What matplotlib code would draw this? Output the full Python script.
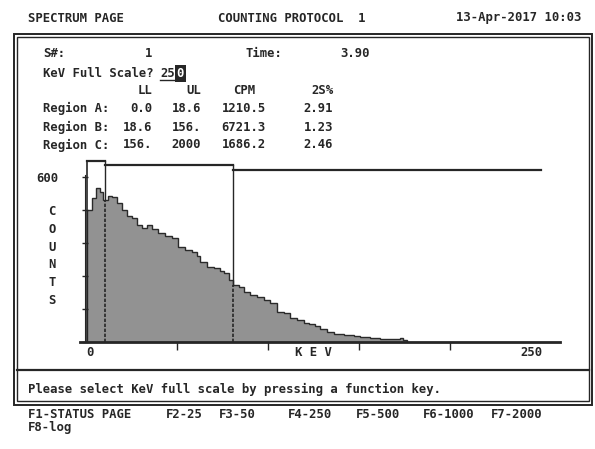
import matplotlib
matplotlib.use("Agg")
import matplotlib.pyplot as plt
import numpy as np
from matplotlib.patches import Rectangle
from matplotlib.lines import Line2D

# spectrum (left bin edge in keV, counts)
kev_edges = [0.5, 2.9, 5.1, 7.5, 9.3, 12.1, 13.9, 16.7, 19.4, 22.1, 24.9, 27.6,
             30.4, 33.1, 35.9, 39.6, 43.2, 46.9, 50.6, 54.2, 57.9, 60.6, 62.6,
             66.3, 70.0, 73.6, 75.4, 78.2, 80.6, 83.7, 86.4, 90.1, 93.8, 97.4,
             101.1, 104.8, 108.4, 112.1, 115.8, 119.4, 122.2, 125.8, 128.6,
             132.2, 135.9, 141.4, 146.9, 150.6, 156.1, 161.6, 167.0, 170.7,
             172.5, 174.2, 176.5]
counts = [479, 522, 558, 545, 515, 530, 525, 503, 479, 457, 448, 424, 412, 424,
          408, 396, 384, 376, 345, 333, 327, 311, 290, 272, 266, 258, 248, 224,
          206, 199, 181, 169, 163, 151, 139, 108, 103, 84, 78, 66, 64, 56, 44,
          36, 27, 24, 20, 15, 12, 10, 8, 8, 11, 4]

# region markers as drawn on the screen (axis units)
marker_lo = [0.5, 10.3, 80.6]
marker_hi = [10.3, 80.6, 250.0]
marker_top = [657, 641, 623]

# region table
region_names = ["Region A:", "Region B:", "Region C:"]
region_ll = ["0.0", "18.6", "156."]
region_ul = ["18.6", "156.", "2000"]
region_cpm = ["1210.5", "6721.3", "1686.2"]
region_2s = ["2.91", "1.23", "2.46"]

fkeys = ["F1-STATUS PAGE", "F2-25", "F3-50", "F4-250", "F5-500", "F6-1000", "F7-2000"]
fkey_x = [28, 166, 219, 288, 356, 423, 491]

W, H = 595, 449
ink = "#262626"
mono = "DejaVu Sans Mono"
fs = 8.8


def fx(x):
    return x / W


def fy(y):
    return 1 - y / H


fig = plt.figure(figsize=(W / 100, H / 100), dpi=100)
fig.patch.set_facecolor("white")


def txt(x, y, s, **kw):
    kw.setdefault("color", ink)
    kw.setdefault("ha", "left")
    fig.text(fx(x), fy(y), s, family=mono, fontsize=fs, fontweight="bold",
             va="center", **kw)


# header line
txt(28, 18, "SPECTRUM PAGE")
txt(218, 18, "COUNTING PROTOCOL  1")
txt(456, 18, "13-Apr-2017 10:03")

# screen frame (double line) and separator
for x0, y0, x1, y1, lw in [(13.5, 33.5, 592, 404.5, 1.4), (17, 37, 589, 401, 1.0)]:
    fig.add_artist(Rectangle((fx(x0), fy(y1)), fx(x1) - fx(x0), fy(y0) - fy(y1),
                             transform=fig.transFigure, fill=False, ec=ink, lw=lw))
fig.add_artist(Line2D([fx(17), fx(589)], [fy(370), fy(370)], transform=fig.transFigure,
                      color=ink, lw=1.6))

# info block
txt(43, 53.5, "S#:")
txt(145, 53.5, "1")
txt(245, 53.5, "Time:")
txt(340, 53.5, "3.90")
txt(43, 73.5, "KeV Full Scale?")
txt(160, 73.5, "25")
txt(176.5, 73.5, "0", color="white",
    bbox=dict(boxstyle="square,pad=0.15", fc=ink, ec="none"))
fig.add_artist(Line2D([fx(160), fx(176)], [fy(80), fy(80)], transform=fig.transFigure,
                      color=ink, lw=1))

txt(152, 90, "LL", ha="right")
txt(201, 90, "UL", ha="right")
txt(255, 90, "CPM", ha="right")
txt(333, 90, "2S%", ha="right")
row_y = [108.5, 127, 145]
for i, y in enumerate(row_y):
    txt(43, y, region_names[i])
    txt(152, y, region_ll[i], ha="right")
    txt(201, y, region_ul[i], ha="right")
    txt(266, y, region_cpm[i], ha="right")
    txt(333, y, region_2s[i], ha="right")

# spectrum axes
kev_per_px = 250 / 454.5
cnt_per_px = 600 / 164.8
ax_l, ax_r, ax_b, ax_t = 80, 560, 341.5, 155
ax = fig.add_axes([fx(ax_l), fy(ax_b), fx(ax_r) - fx(ax_l), fy(ax_t) - fy(ax_b)])
ax.set_facecolor("none")
ax.set_xlim((ax_l - 86.5) * kev_per_px, (ax_r - 86.5) * kev_per_px)
ax.set_ylim(0, (ax_b - ax_t) * cnt_per_px)

ax.stairs(counts, kev_edges, fill=True, color="#929292", zorder=1)
ax.stairs(counts, kev_edges, color="#2a2a2a", lw=1.0, zorder=2)

# region markers: solid above the spectrum, dotted where they cross it
ax.plot([marker_lo[0], marker_lo[0]], [0, marker_top[0]], color=ink, lw=1.2, zorder=3)
for lo, hi, top in zip(marker_lo, marker_hi, marker_top):
    ax.plot([lo, hi], [top, top], color=ink, lw=1.6, zorder=3)
for hi, top in zip(marker_hi[:2], marker_top[:2]):
    level = counts[np.searchsorted(kev_edges, hi, side="right") - 1]
    ax.plot([hi, hi], [0, level], color=ink, lw=1.2, ls=(0, (2, 1)), zorder=3)
    ax.plot([hi, hi], [level, top], color=ink, lw=1.0, zorder=3)

for side in ["top", "right"]:
    ax.spines[side].set_visible(False)
ax.spines["bottom"].set_linewidth(2)
ax.spines["bottom"].set_color(ink)
ax.spines["left"].set_position(("data", -0.8))
ax.spines["left"].set_bounds(0, 606)
ax.spines["left"].set_color(ink)

ax.set_yticks([0, 120, 240, 360, 480, 600], ["", "", "", "", "", "600"])
ax.tick_params(axis="y", direction="inout", length=5, width=1, color=ink, pad=17,
               labelsize=fs, labelcolor=ink)
ax.set_xticks([50, 100, 150, 200], ["", "", "", ""])
ax.tick_params(axis="x", direction="out", length=6, width=1, color=ink)
for lab in ax.get_yticklabels():
    lab.set_family(mono)
    lab.set_fontweight("bold")

xt = ax.get_xaxis_transform()
for xv, s, ha in [(0, "0", "left"), (125, "K E V", "center"), (251, "250", "right")]:
    ax.text(xv, -0.058, s, transform=xt, ha=ha, va="center", family=mono,
            fontsize=fs, fontweight="bold", color=ink)

# vertical axis title
for i, ch in enumerate("COUNTS"):
    txt(52, 211.7 + i * 17.7, ch, ha="center")

# prompt and function keys
txt(28, 389, "Please select KeV full scale by pressing a function key.")
for s, x in zip(fkeys, fkey_x):
    txt(x, 414, s)
txt(28, 427, "F8-log")

fig.savefig("out.png", dpi=100)
